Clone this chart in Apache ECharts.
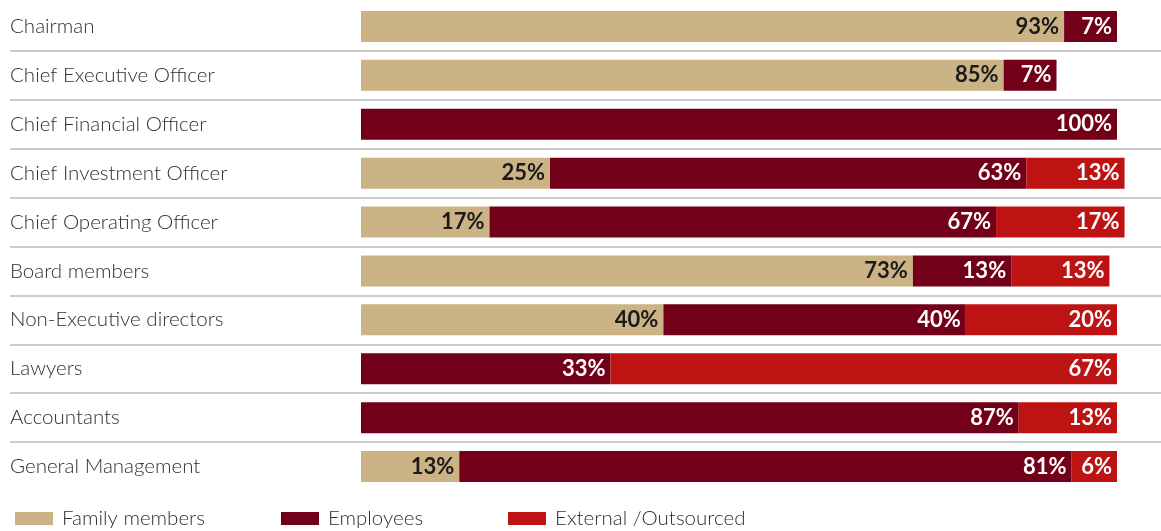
<!DOCTYPE html>
<html>
<head>
<meta charset="utf-8">
<script src="https://cdn.jsdelivr.net/npm/echarts@6/dist/echarts.min.js"></script>
<style>
  html, body { margin: 0; padding: 0; background: #fff; }
  #chart { width: 1161px; height: 531px; }
</style>
</head>
<body>
<div id="chart"></div>
<script>
// Roles, from top to bottom
const roles = [
  'Chairman',
  'Chief Executive Officer',
  'Chief Financial Officer',
  'Chief Investment Officer',
  'Chief Operating Officer',
  'Board members',
  'Non-Executive directors',
  'Lawyers',
  'Accountants',
  'General Management'
];

// Share of each role held by each group (%); null = not present
const familyMembers = [93, 85, null, 25, 17, 73, 40, null, null, 13];
const employees     = [7, 7, 100, 63, 67, 13, 40, 33, 87, 81];
const external      = [null, null, null, 13, 17, 13, 20, 67, 13, 6];

const seriesNames = ['Family members', 'Employees', 'External /Outsourced'];

const FONT = 'Lato, "Noto Sans", sans-serif';
const colors = ['#cbb385', '#720019', '#bd1313'];

// Horizontal layout: plot spans x=10..1161, bars start at x=361, 100% = 756px
const plotLeft = 10, plotRight = 0, barStart = 361, pxPerUnit = 7.56, totalWidth = 1161;
const xMin = -(barStart - plotLeft) / pxPerUnit;
const xMax = (totalWidth - plotRight - barStart) / pxPerUnit;

const toSeriesData = arr => arr.map(v => (v === null ? '-' : v));

function barSeries(name, values, color, labelColor) {
  return {
    name: name,
    type: 'bar',
    stack: 'total',
    barWidth: 31,
    data: toSeriesData(values),
    itemStyle: { color: color },
    label: {
      show: true,
      position: 'insideRight',
      distance: 5,
      formatter: '{c}%',
      color: labelColor,
      fontFamily: FONT,
      fontWeight: 'bold',
      fontSize: 22
    },
    emphasis: { disabled: true },
    animation: false
  };
}

function legendAt(name, left) {
  return {
    data: [name],
    left: left,
    top: 503,
    icon: 'rect',
    itemWidth: 38,
    itemHeight: 13,
    selectedMode: false,
    textStyle: {
      fontFamily: FONT,
      fontWeight: 300,
      fontSize: 20.5,
      color: '#2f2f2f',
      padding: [0, 0, 0, 4]
    }
  };
}

const chart = echarts.init(document.getElementById('chart'), null, { renderer: 'canvas' });

chart.setOption({
  animation: false,
  color: colors,
  legend: [
    legendAt(seriesNames[0], 10),
    legendAt(seriesNames[1], 276),
    legendAt(seriesNames[2], 503)
  ],
  grid: { left: plotLeft, right: plotRight, top: 2, bottom: 40, containLabel: false },
  xAxis: {
    type: 'value',
    min: xMin,
    max: xMax,
    show: false
  },
  yAxis: {
    type: 'category',
    inverse: true,
    data: roles,
    axisLine: { show: false, onZero: false },
    axisTick: { show: false },
    axisLabel: {
      inside: true,
      margin: 0,
      fontFamily: FONT,
      fontWeight: 300,
      fontSize: 20.5,
      color: '#2f2f2f'
    },
    splitLine: {
      show: true,
      showMinLine: false,
      showMaxLine: false,
      lineStyle: { color: '#cccccc', width: 2 }
    }
  },
  series: [
    barSeries(seriesNames[0], familyMembers, colors[0], '#1a1a1a'),
    barSeries(seriesNames[1], employees, colors[1], '#ffffff'),
    barSeries(seriesNames[2], external, colors[2], '#ffffff')
  ]
});
</script>
</body>
</html>
